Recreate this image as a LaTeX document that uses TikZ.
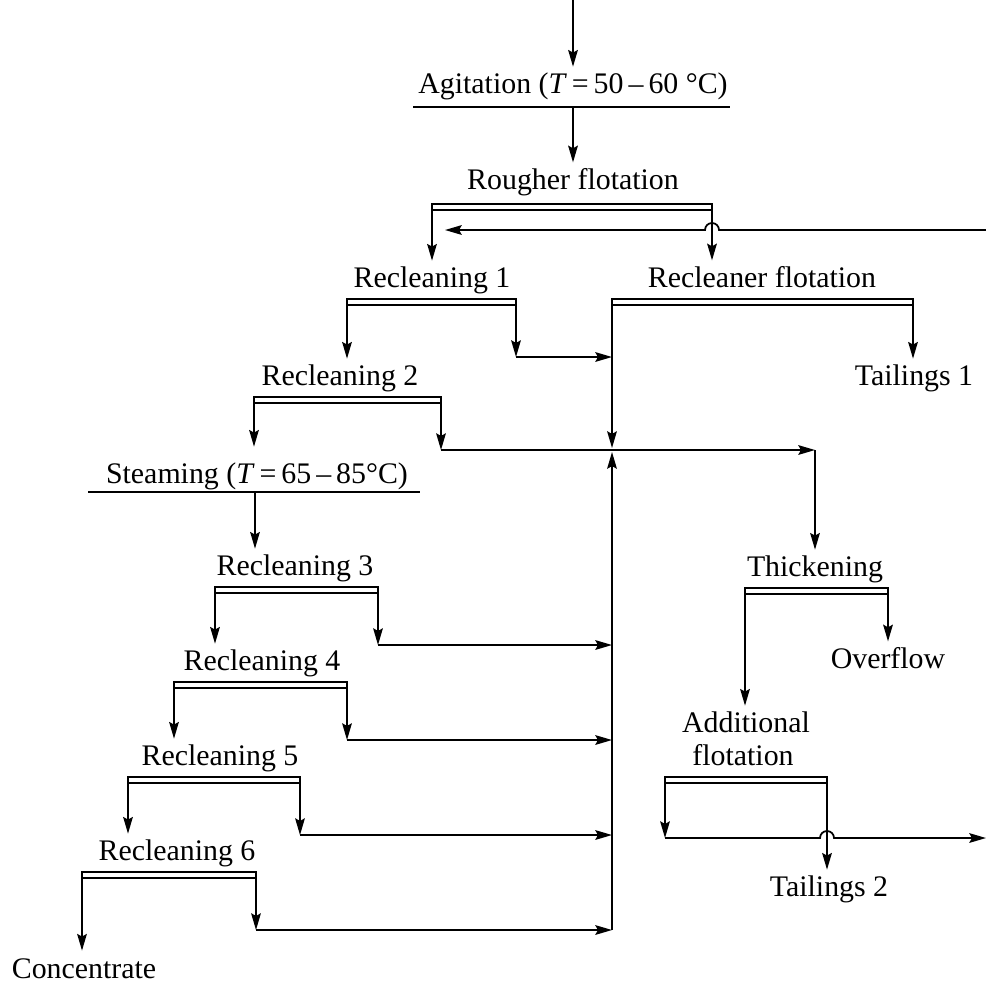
\documentclass[tikz,border=0pt]{standalone}
\usepackage{fontspec}
\setmainfont{Liberation Serif}
\usetikzlibrary{arrows.meta}

\tikzset{
    lbl/.style={anchor=base, inner sep=3pt, font=\fontsize{17}{20}\selectfont},
    flow/.style={line width=1pt, -{Stealth[length=9.5pt, width=5.5pt, inset=1.5pt]}},
    pipe/.style={line width=1pt},
    bar/.style={line width=0.85pt},
}

\begin{document}
\begin{tikzpicture}[x=0.02cm, y=-0.02cm]
            \useasboundingbox (0, 0) rectangle (986, 985);

            % labels
            \node[lbl] (agit) at (573, 93) {Agitation (\textit{T}\,=\,50\,–\,60 °C)};
            \node[lbl] (rough) at (573, 189) {Rougher flotation};
            \node[lbl] (rec1) at (432, 287) {Recleaning 1};
            \node[lbl] (rcf) at (762, 287) {Recleaner flotation};
            \node[lbl] (tail1) at (914, 385) {Tailings 1};
            \node[lbl] (rec2) at (340, 385) {Recleaning 2};
            \node[lbl] (steam) at (257, 483) {Steaming (\textit{T}\,=\,65\,–\,85°C)};
            \node[lbl] (rec3) at (295, 575) {Recleaning 3};
            \node[lbl] (rec4) at (262, 670) {Recleaning 4};
            \node[lbl] (rec5) at (220, 765) {Recleaning 5};
            \node[lbl] (rec6) at (177, 860) {Recleaning 6};
            \node[lbl] (conc) at (84, 978) {Concentrate};
            \node[lbl] (thick) at (815, 576) {Thickening};
            \node[lbl] (over) at (888, 668) {Overflow};
            \node[lbl] (add1) at (746, 732) {Additional};
            \node[lbl] (add2) at (743, 765) {flotation};
            \node[lbl] (tail2) at (829, 896) {Tailings 2};

            % lines under the labels
            \draw[pipe] (413, 107) coordinate (ag-a) -- (730, 107);
            \draw[pipe] (88, 492) -- (420, 492);
            \draw[bar] (432, 204) coordinate (rough-a) rectangle (712, 210) coordinate (rough-b);
            \draw[bar] (347, 299) coordinate (rec1-a) rectangle (516, 305) coordinate (rec1-b);
            \draw[bar] (612, 299) coordinate (rcf-a) rectangle (913, 305) coordinate (rcf-b);
            \draw[bar] (254, 397) coordinate (rec2-a) rectangle (441, 403) coordinate (rec2-b);
            \draw[bar] (215, 587) coordinate (rec3-a) rectangle (378, 593) coordinate (rec3-b);
            \draw[bar] (174, 682) coordinate (rec4-a) rectangle (347, 688) coordinate (rec4-b);
            \draw[bar] (128, 777) coordinate (rec5-a) rectangle (300, 783) coordinate (rec5-b);
            \draw[bar] (82, 872) coordinate (rec6-a) rectangle (256, 878) coordinate (rec6-b);
            \draw[bar] (745, 588) coordinate (thick-a) rectangle (888, 594) coordinate (thick-b);
            \draw[bar] (665, 777) coordinate (add-a) rectangle (827, 783) coordinate (add-b);

            \coordinate (feed) at (573, 0);
            \coordinate (st-m) at (255, 492);
            \coordinate (hub) at (612, 450);
            \coordinate (ret) at (986, 230);

            % feed and rougher
            \draw[flow] (feed) -- (feed |- agit.north);
            \draw[flow] (feed |- ag-a) -- (feed |- rough.north);
            \draw[flow] (rough-a |- rough-b) -- (rough-a |- rec1.north);
            \draw[flow] (rough-b) -- (rough-b |- rcf.north);
            \draw[flow] (ret) -- ([xshift=0.14cm]ret -| rough-b) arc[start angle=0, end angle=180, radius=0.14cm] -- ([xshift=0.26cm]ret -| rough-a);

            % recleaner flotation
            \draw[flow] (rcf-b) -- (rcf-b |- tail1.north);
            \draw[flow] (rcf-a |- rcf-b) -- ([yshift=0.04cm]hub);

            % recleaning 1 and 2
            \draw[flow] (rec1-a |- rec1-b) -- (rec1-a |- rec2.north);
            \draw[flow] (rec1-b) -- ++(0, 52) coordinate (c1);
            \draw[flow] (c1) -- (c1 -| hub);
            \draw[flow, shorten >=0.2cm] (rec2-a |- rec2-b) -- (rec2-a |- steam.north);
            \draw[flow] (rec2-b) -- (rec2-b |- hub);
            \draw[flow] (rec2-b |- hub) -- (815, 450) coordinate (tk);
            \draw[flow] (tk) -- (tk |- thick.north);

            % steaming and recleaning 3 to 6
            \draw[flow] (st-m) -- (st-m |- rec3.north);
            \draw[flow] (rec3-a |- rec3-b) -- (rec3-a |- rec4.north);
            \draw[flow] (rec3-b) -- ++(0, 52) coordinate (c3);
            \draw[flow] (c3) -- (c3 -| hub);
            \draw[flow] (rec4-a |- rec4-b) -- (rec4-a |- rec5.north);
            \draw[flow] (rec4-b) -- ++(0, 52) coordinate (c4);
            \draw[flow] (c4) -- (c4 -| hub);
            \draw[flow] (rec5-a |- rec5-b) -- (rec5-a |- rec6.north);
            \draw[flow] (rec5-b) -- ++(0, 52) coordinate (c5);
            \draw[flow] (c5) -- (c5 -| hub);
            \draw[flow, shorten >=0.04cm] (rec6-a |- rec6-b) -- (rec6-a |- conc.north);
            \draw[flow] (rec6-b) -- ++(0, 52) coordinate (c6);
            \draw[flow] (c6) -- (c6 -| hub);
            \draw[flow] (c6 -| hub) -- ([yshift=-0.04cm]hub);

            % thickening and additional flotation
            \draw[flow] (thick-b) -- (thick-b |- over.north);
            \draw[flow] (thick-a |- thick-b) -- (thick-a |- add1.north);
            \draw[flow] (add-b) -- (add-b |- tail2.north);
            \draw[flow] (add-a |- add-b) -- ++(0, 55) coordinate (c7);
            \draw[flow] (c7) -- ([xshift=-0.14cm]c7 -| add-b) arc[start angle=180, end angle=0, radius=0.14cm] -- (986, 838);

        \end{tikzpicture}
\end{document}
